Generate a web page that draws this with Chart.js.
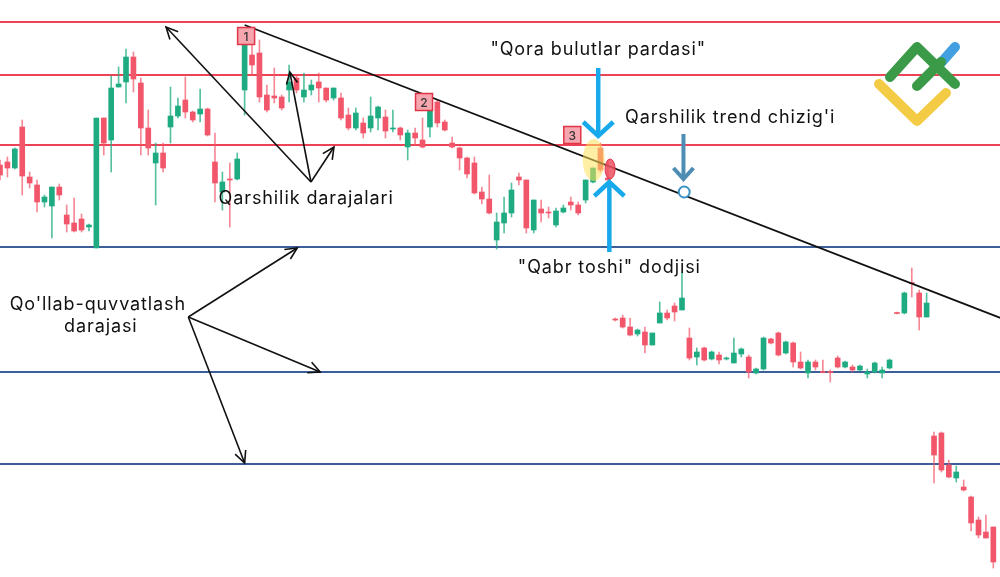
<!DOCTYPE html>
<html>
<head>
<meta charset="utf-8">
<script src="https://cdn.jsdelivr.net/npm/chart.js@4.4.0/dist/chart.umd.min.js"></script>
<style>
  html, body { margin: 0; padding: 0; background: #fff; }
  #wrap { width: 1000px; height: 577px; position: relative; }
</style>
</head>
<body>
<div id="wrap"><canvas id="priceChart"></canvas></div>
<script>
// OHLC per candle (index = bar number), price units are arbitrary
const opens = [43.5,43.8,43.2,47.3,42.3,41.5,39.8,39.4,41.3,38.5, 37.7,38.1,37.3,35.2,48.2,46.0,51.3,51.8,54.3,51.7,
  47.2,43.7,44.7,47.3,48.4,50.0,48.8,48.6,49.1,43.8, 40.8,42.1,42.1,51.0,54.5,54.7,50.5,50.4,50.3,51.0,
  52.2,50.3,51.0,51.8,51.2,50.2,50.2,48.5,47.2,47.7, 47.2,48.2,48.3,47.1,47.2,45.3,46.7,46.0,47.3,49.8,
  47.8,45.7,45.2,44.2,43.7,40.8,40.1,36.0,37.7,38.7, 42.3,42.0,37.0,39.1,38.8,37.5,38.8,39.8,39.5,40.0,
  41.8,45.2,42.2,28.1,28.2,27.3,26.6,26.8,25.5,27.7, 28.7,29.4,29.0,26.2,24.3,25.2,24.1,24.5,24.1,23.7,
  24.6,24.3,22.7,23.1,26.1,26.7,24.7,25.7,23.8,22.7, 23.8,22.85,22.85,24.2,23.3,23.3,23.0,22.6,22.8,22.7,
  23.2,28.75,28.7,31.75,30.7,28.3,16.4,16.7,13.5,12.2, 11.3,10.3,8.0,6.8,7.3];
const highs = [44.0,44.3,45.2,48.0,42.8,42.0,40.5,41.3,41.6,39.5, 40.2,38.6,37.6,48.2,48.2,52.4,53.3,55.1,54.8,52.2,
  49.0,45.7,45.7,51.3,50.2,52.3,48.9,51.1,49.2,46.7, 42.8,43.7,44.7,55.8,56.8,56.0,51.5,53.2,50.5,53.5,
  52.4,52.7,52.0,52.7,51.2,51.2,50.7,49.2,49.2,48.2, 50.3,49.4,49.0,49.0,47.3,47.0,47.2,48.2,49.8,50.0,
  48.0,46.3,45.3,44.3,44.3,41.3,42.5,38.7,40.3,41.7, 42.7,42.0,40.0,40.0,39.3,39.2,39.5,40.3,39.8,42.0,
  43.2,45.7,44.0,28.2,28.5,28.2,27.1,27.3,26.7,29.8, 29.0,29.7,32.7,27.2,25.2,25.3,24.9,24.8,24.3,26.2,
  25.2,24.5,23.2,26.3,26.2,26.8,25.9,25.8,24.8,24.0, 24.0,24.0,23.0,24.4,23.9,23.5,23.5,23.1,23.8,23.3,
  24.1,28.8,30.8,33.2,31.0,30.7,16.8,16.8,14.0,13.4, 12.0,10.4,8.3,8.5,7.3];
const lows = [42.0,42.3,43.1,40.5,41.2,38.8,39.3,36.2,40.0,36.8, 36.8,36.8,36.9,35.2,44.5,42.8,51.3,49.7,50.8,44.5,
  44.5,39.5,42.8,45.7,48.2,48.2,47.8,47.8,46.4,39.8, 39.0,37.3,42.0,48.5,52.5,49.8,48.8,49.7,49.0,49.8,
  50.7,49.8,50.5,49.8,49.8,50.0,48.0,47.0,47.0,46.2, 46.8,47.0,46.2,46.8,46.0,44.0,45.5,45.2,46.3,47.3,
  46.9,45.2,43.0,42.2,40.6,39.6,38.6,35.1,36.7,38.3, 41.5,36.7,36.7,37.8,38.2,37.3,38.7,39.0,38.5,39.7,
  41.7,42.8,42.0,27.9,27.2,26.4,26.4,24.7,25.5,27.7, 28.0,27.9,29.0,24.0,23.5,23.9,24.0,23.6,24.0,23.7,
  24.3,22.2,22.6,23.0,25.6,24.4,24.6,23.3,23.1,22.2, 23.0,22.7,21.8,23.2,23.2,22.8,22.9,22.2,22.7,22.2,
  23.1,28.6,28.6,30.3,27.0,28.3,11.7,12.8,12.2,11.8, 10.9,6.9,6.2,6.2,3.2];
const closes = [42.5,43.2,45.1,42.4,41.7,39.8,40.3,41.3,40.5,37.6, 36.9,37.0,37.5,48.2,45.7,51.2,51.6,54.3,52.1,47.2,
  45.2,44.7,43.2,48.4,49.4,48.8,48.0,49.1,46.5,41.7, 41.8,42.0,44.1,55.5,53.5,50.3,49.0,50.2,49.2,51.8,
  51.0,51.0,51.5,51.2,50.0,51.2,48.2,47.2,48.7,46.7, 48.4,49.3,46.9,47.2,46.5,46.7,46.2,45.3,49.5,47.7,
  47.0,45.3,44.2,42.6,40.7,40.1,38.7,37.8,38.7,41.0, 42.0,37.2,40.0,38.7,38.7,38.9,39.2,39.5,38.7,42.0,
  43.2,43.0,42.0,28.0,27.3,26.5,27.0,25.5,26.7,28.7, 28.2,28.8,30.2,24.2,24.8,24.0,24.8,24.0,24.2,24.7,
  25.1,22.8,23.1,26.2,25.7,24.5,25.8,23.8,23.2,23.8, 23.3,22.75,22.75,23.3,23.8,23.0,23.4,22.8,23.7,23.0,
  24.0,28.65,30.7,31.65,28.3,29.7,14.5,13.0,12.3,12.8, 11.0,7.7,6.5,6.2,3.8];

// Levels
const resistanceLevels = [57.8, 52.5, 45.5];
const supportLevels = [35.3, 22.8, 13.6];
// Trend line: [bar index, price]
const trendLine = [[33, 57.5], [135, 28.2]];

const GREEN = '#1fab82';
const RED = '#f2566a';
const FONT = '"Inter", "Open Sans", sans-serif';

const bodyColors = opens.map((o, i) => closes[i] >= o ? GREEN : RED);
const wickColors = opens.map((o, i) => closes[i] >= o ? 'rgba(31,171,130,0.75)' : 'rgba(242,86,106,0.7)');

const levelDataset = (price, color) => ({
  type: 'line',
  data: [{ x: -2, y: price }, { x: 140, y: price }],
  borderColor: color,
  borderWidth: 2,
  pointRadius: 0,
  order: 3
});

// ANNOTATIONS (all in bar index / price units)
const blackArrows = [
  [[41.95, 41.8], [22.4, 57.3]],
  [[41.95, 41.8], [39.1, 52.8]],
  [[41.95, 41.8], [45.05, 45.3]],
  [[25.4, 28.3], [40.1, 35.2]],
  [[25.4, 28.3], [43.2, 22.8]],
  [[25.4, 28.3], [33.0, 13.7]]
];
const texts = [
  ['Qarshilik darajalari', 41.3, 40.1],
  ['"Qora bulutlar pardasi"', 80.7, 55.0],
  ["Qarshilik trend chizig'i", 98.5, 48.2],
  ['"Qabr toshi" dodjisi', 82.2, 33.2],
  ["Qo'llab-quvvatlash", 13.2, 29.5],
  ['darajasi', 13.6, 27.3]
];
const numberTags = [['1', 33.2, 56.4], ['2', 57.2, 49.8], ['3', 77.2, 46.5]];

function arrow(ctx, x1, y1, x2, y2, head, spread) {
  const a = Math.atan2(y2 - y1, x2 - x1);
  ctx.beginPath();
  ctx.moveTo(x1, y1);
  ctx.lineTo(x2, y2);
  ctx.stroke();
  ctx.beginPath();
  ctx.moveTo(x2 - head * Math.cos(a - spread), y2 - head * Math.sin(a - spread));
  ctx.lineTo(x2, y2);
  ctx.lineTo(x2 - head * Math.cos(a + spread), y2 - head * Math.sin(a + spread));
  ctx.stroke();
}

// vertical arrow with an open, thick chevron head
function thickArrow(ctx, x, yFrom, yTo, color, width, headW, headH) {
  const dir = yTo > yFrom ? 1 : -1;
  ctx.strokeStyle = color;
  ctx.lineWidth = width;
  ctx.lineCap = 'butt';
  ctx.lineJoin = 'miter';
  ctx.beginPath();
  ctx.moveTo(x, yFrom);
  ctx.lineTo(x, yTo - dir * 3);
  ctx.stroke();
  ctx.beginPath();
  ctx.moveTo(x - headW / 2, yTo - dir * headH);
  ctx.lineTo(x, yTo - dir * 2);
  ctx.lineTo(x + headW / 2, yTo - dir * headH);
  ctx.stroke();
}

const annotationPlugin = {
  id: 'annotations',
  afterDatasetsDraw(chart) {
    const ctx = chart.ctx;
    const sx = chart.scales.x, sy = chart.scales.y;
    const px = v => sx.getPixelForValue(v);
    const py = v => sy.getPixelForValue(v);
    ctx.save();

    // highlight around black cloud cover
    ctx.fillStyle = 'rgba(255,225,90,0.55)';
    ctx.beginPath();
    ctx.ellipse(px(80.1), py(44.0), 11, 21, 0, 0, Math.PI * 2);
    ctx.fill();
    // gravestone doji marker
    ctx.fillStyle = 'rgba(238,80,95,0.85)';
    ctx.strokeStyle = '#d8344a';
    ctx.lineWidth = 1;
    ctx.beginPath();
    ctx.ellipse(px(82.3), py(43.1), 5, 10, 0, 0, Math.PI * 2);
    ctx.fill();
    ctx.stroke();

    // black arrows
    ctx.strokeStyle = '#111';
    ctx.lineWidth = 1.6;
    blackArrows.forEach(([a, b]) => arrow(ctx, px(a[0]), py(a[1]), px(b[0]), py(b[1]), 13, 0.45));

    // blue arrows
    thickArrow(ctx, px(80.7), py(53.2), py(46.2), '#17a9ec', 4.5, 30, 16);
    thickArrow(ctx, px(82.2), py(34.8), py(42.0), '#17a9ec', 4.5, 30, 16);
    thickArrow(ctx, px(92.2), py(46.6), py(41.9), '#4d8db3', 4, 20, 13);

    // trend line point
    ctx.beginPath();
    ctx.arc(px(92.3), py(40.8), 5.5, 0, Math.PI * 2);
    ctx.fillStyle = '#fff';
    ctx.fill();
    ctx.strokeStyle = '#3a93c4';
    ctx.lineWidth = 2;
    ctx.stroke();

    // numbered tags
    numberTags.forEach(([t, i, p]) => {
      const x = px(i), y = py(p);
      ctx.fillStyle = '#f5a6ae';
      ctx.fillRect(x - 8.5, y - 8.5, 17, 17);
      ctx.strokeStyle = '#e23448';
      ctx.lineWidth = 1.5;
      ctx.strokeRect(x - 8.5, y - 8.5, 17, 17);
      ctx.fillStyle = '#333';
      ctx.font = '500 12px ' + FONT;
      ctx.textAlign = 'center';
      ctx.textBaseline = 'middle';
      ctx.fillText(t, x, y + 1);
    });

    // labels
    ctx.fillStyle = '#111';
    ctx.font = '18px ' + FONT;
    ctx.letterSpacing = '0.9px';
    ctx.textAlign = 'center';
    ctx.textBaseline = 'middle';
    texts.forEach(([t, i, p]) => ctx.fillText(t, px(i), py(p)));
    ctx.letterSpacing = '0px';

    // logo
    ctx.lineCap = 'round';
    ctx.lineJoin = 'round';
    ctx.lineWidth = 10;
    ctx.strokeStyle = '#43a0e0';
    ctx.beginPath(); ctx.moveTo(940, 64); ctx.lineTo(955, 47); ctx.stroke();
    ctx.strokeStyle = '#3a9a48';
    ctx.beginPath(); ctx.moveTo(890, 77); ctx.lineTo(917, 47); ctx.lineTo(955, 84); ctx.stroke();
    ctx.beginPath(); ctx.moveTo(917, 86); ctx.lineTo(941, 62); ctx.stroke();
    ctx.strokeStyle = '#f3cb45';
    ctx.beginPath(); ctx.moveTo(879, 84); ctx.lineTo(917, 121); ctx.lineTo(946, 93); ctx.stroke();

    ctx.restore();
  }
};

new Chart(document.getElementById('priceChart'), {
  type: 'bar',
  data: {
    datasets: [
      {
        label: 'wicks',
        data: opens.map((o, i) => ({ x: i, y: [lows[i], highs[i]] })),
        backgroundColor: wickColors,
        barThickness: 1,
        grouped: false,
        order: 2
      },
      {
        label: 'bodies',
        data: opens.map((o, i) => ({ x: i, y: [Math.min(o, closes[i]), Math.max(o, closes[i])] })),
        backgroundColor: bodyColors,
        barThickness: 5,
        grouped: false,
        order: 1
      },
      ...resistanceLevels.map(p => levelDataset(p, '#ec4357')),
      ...supportLevels.map(p => levelDataset(p, '#3d5f99')),
      {
        type: 'line',
        data: trendLine.map(([i, p]) => ({ x: i, y: p })),
        borderColor: '#111',
        borderWidth: 1.8,
        pointRadius: 0,
        order: 0
      }
    ]
  },
  options: {
    responsive: true,
    maintainAspectRatio: false,
    animation: false,
    devicePixelRatio: 1,
    layout: { padding: 0 },
    plugins: { legend: { display: false }, tooltip: { enabled: false } },
    scales: {
      x: { type: 'linear', min: 0, max: 134.9, display: false, offset: false },
      y: { type: 'linear', min: 2.3, max: 60, display: false }
    }
  },
  plugins: [annotationPlugin]
});
</script>
</body>
</html>
